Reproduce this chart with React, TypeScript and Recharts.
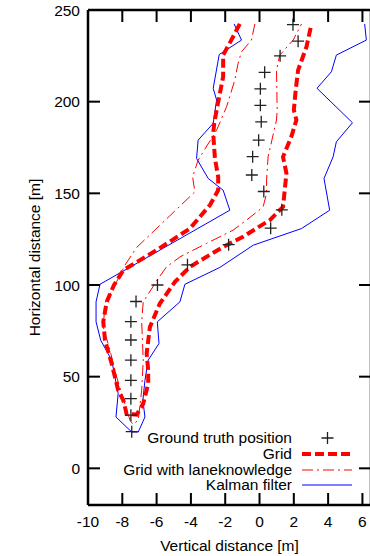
import React from 'react';
import { ComposedChart, Line, Scatter, XAxis, YAxis } from 'recharts';

const xTicks = [-10, -8, -6, -4, -2, 0, 2, 4, 6];
const yTicks = [0, 50, 100, 150, 200, 250];

// ground truth positions
const truthX = [-7.45, -7.5, -7.5, -7.5, -7.5, -7.5, -7.5, -7.2, -5.95, -4.2, -1.8, 0.65, 1.3, 0.25, -0.45, -0.4, -0.05, 0.1, 0.05, 0.05, 0.3, 1.2, 2.25, 1.95];
const truthY = [20, 29, 38, 48, 59, 70, 80, 91, 100, 111, 122, 131, 141, 151, 160, 170, 179, 189, 198, 207, 216, 225, 233, 242];

// each path: left border top -> bottom, then right border bottom -> top
const gridPath: [number, number][] = [
  [-1.15, 242.4], [-1.54, 235.4], [-2.12, 225.4], [-2.12, 213.6], [-2.31, 204.5], [-2.5, 195.4],
  [-2.64, 188.2], [-2.7, 182.7], [-2.6, 169.0], [-2.41, 159.0], [-2.41, 151.7], [-2.89, 143.6],
  [-4.06, 130.8], [-6.0, 119.0], [-7.94, 108.1], [-8.49, 99.9], [-8.91, 90.8], [-9.11, 79.9],
  [-9.01, 69.9], [-8.62, 57.2], [-8.24, 42.6], [-7.94, 37.1], [-7.75, 29.7], [-7.16, 29.3],
  [-6.78, 35.3], [-6.49, 46.2], [-6.49, 53.5], [-6.58, 62.6], [-6.39, 77.1], [-5.81, 89.9],
  [-4.93, 101.7], [-4.06, 109.9], [-2.12, 120.8], [-0.96, 126.3], [0.6, 135.4], [1.37, 142.6],
  [1.47, 151.7], [1.57, 160.9], [1.37, 169.9], [1.86, 181.0], [2.15, 190.0], [2.0, 195.4],
  [2.11, 206.3], [2.25, 217.2], [2.74, 230.0], [3.03, 242.4],
];

const laneGridPath: [number, number][] = [
  [-0.27, 242.4], [-0.47, 233.6], [-1.05, 227.2], [-1.25, 220.9], [-1.44, 211.8], [-1.92, 197.2],
  [-2.5, 184.5], [-3.58, 168.1], [-3.9, 159.0], [-3.77, 150.8], [-7.15, 120.6], [-7.85, 110.8],
  [-8.43, 99.9], [-9.01, 89.9], [-9.11, 77.1], [-8.72, 64.4], [-8.33, 49.8], [-7.94, 38.0],
  [-7.55, 26.2], [-7.38, 24.0], [-7.07, 26.2], [-6.87, 42.6], [-6.78, 59.0], [-6.87, 79.9],
  [-6.78, 90.8], [-5.91, 103.5], [-5.42, 109.9], [-4.64, 115.3], [-3.09, 122.7], [-1.54, 129.9],
  [-0.76, 135.4], [0.21, 142.6], [0.41, 149.9], [0.41, 157.2], [0.5, 169.9], [0.99, 190.0],
  [1.03, 195.4], [0.99, 217.2], [1.18, 225.4], [1.96, 233.6], [2.45, 242.4],
];

const kalmanPath: [number, number][] = [
  [-1.48, 242.4], [-1.05, 233.6], [-2.35, 225.7], [-2.7, 207.3], [-2.5, 200.9], [-2.7, 188.2],
  [-3.58, 179.0], [-3.67, 169.0], [-2.99, 158.1], [-2.12, 151.7], [-1.73, 140.8], [-9.3, 100.4],
  [-9.53, 90.8], [-9.53, 79.9], [-9.26, 69.9], [-8.62, 59.0], [-8.24, 40.8], [-8.37, 28.0],
  [-7.45, 19.8], [-7.07, 19.8], [-6.68, 28.0], [-6.8, 37.1], [-6.68, 48.0], [-6.49, 59.0],
  [-5.86, 68.1], [-5.96, 79.9], [-4.64, 90.8], [-4.35, 100.4], [-2.31, 109.6], [-0.37, 121.7],
  [2.45, 130.8], [4.09, 140.8], [3.76, 158.1], [4.29, 169.9], [4.48, 178.1], [5.42, 188.5],
  [3.35, 207.3], [4.19, 216.3], [4.48, 225.4], [6.23, 233.6], [6.13, 242.4],
];

const FONT = '"Liberation Sans", Arial, Helvetica, sans-serif';
const FS = 15.5;
const RED = '#ff0000';
const BLUE = '#0000ff';
const GRID_DASH = '9 4';
const LANE_DASH = '11 4 2 4';

const toRows = (pts: [number, number][]) => pts.map(([x, y]) => ({ x, y }));
const truthData = truthX.map((x, i) => ({ x, y: truthY[i] }));

const BottomTick = ({ x, y, payload }: any) => (
  <g>
    <line x1={x} x2={x} y1={y} y2={y - 12} stroke="#000" strokeWidth={2} />
    <text x={x} y={y + 22} textAnchor="middle" fontSize={FS} fontFamily={FONT} fill="#000">
      {payload.value}
    </text>
  </g>
);

const TopTick = ({ x, y }: any) => (
  <line x1={x} x2={x} y1={y} y2={y + 12} stroke="#000" strokeWidth={2} />
);

const LeftTick = ({ x, y, payload }: any) => (
  <g>
    <line x1={x} x2={x + 12} y1={y} y2={y} stroke="#000" strokeWidth={2} />
    <text x={x - 8} y={y} dy="0.36em" textAnchor="end" fontSize={FS} fontFamily={FONT} fill="#000">
      {payload.value}
    </text>
  </g>
);

const RightTick = ({ x, y }: any) => (
  <line x1={x} x2={x - 12} y1={y} y2={y} stroke="#000" strokeWidth={2} />
);

const Cross = (props: any) => {
  const { cx, cy } = props;
  return <path d={`M${cx - 6},${cy}h12M${cx},${cy - 6}v12`} stroke="#222" strokeWidth={1.3} fill="none" />;
};

const axisLine = { stroke: '#000', strokeWidth: 2.5 };

const legendItems = [
  { label: 'Ground truth position', kind: 'cross' },
  { label: 'Grid', kind: 'line', stroke: RED, width: 4, dash: GRID_DASH },
  { label: 'Grid with laneknowledge', kind: 'line', stroke: RED, width: 1, dash: LANE_DASH },
  { label: 'Kalman filter', kind: 'line', stroke: BLUE, width: 1, dash: undefined },
];

export default function App() {
  return (
    <div style={{ position: 'absolute', left: 0, top: 0, width: 370, height: 556, overflow: 'hidden', background: '#fff' }}>
      <ComposedChart width={380} height={556} margin={{ top: 9, right: 8, bottom: 0, left: 0 }}>
        <XAxis
          xAxisId="b"
          orientation="bottom"
          type="number"
          dataKey="x"
          domain={[-10, 6.5]}
          ticks={xTicks}
          allowDataOverflow
          height={51}
          tickSize={0}
          tickMargin={0}
          tickLine={false}
          axisLine={axisLine}
          tick={<BottomTick />}
          interval={0}
          label={{ value: 'Vertical distance [m]', position: 'insideBottom', offset: 5, fill: '#000', fontSize: FS, fontFamily: FONT }}
        />
        <XAxis
          xAxisId="t"
          orientation="top"
          type="number"
          dataKey="x"
          domain={[-10, 6.5]}
          ticks={xTicks}
          allowDataOverflow
          height={1}
          tickSize={0}
          tickMargin={0}
          tickLine={false}
          axisLine={axisLine}
          tick={<TopTick />}
          interval={0}
        />
        <YAxis
          yAxisId="l"
          orientation="left"
          type="number"
          dataKey="y"
          domain={[-20, 250]}
          ticks={yTicks}
          allowDataOverflow
          width={88}
          tickSize={0}
          tickMargin={0}
          tickLine={false}
          axisLine={axisLine}
          tick={<LeftTick />}
          interval={0}
          label={{
            value: 'Horizontal distance [m]',
            angle: -90,
            position: 'insideLeft',
            offset: 34,
            fill: '#000',
            fontSize: FS,
            fontFamily: FONT,
            style: { textAnchor: 'middle' },
          }}
        />
        <YAxis
          yAxisId="r"
          orientation="right"
          type="number"
          dataKey="y"
          domain={[-20, 250]}
          ticks={yTicks}
          allowDataOverflow
          width={1}
          tickSize={0}
          tickMargin={0}
          tickLine={false}
          axisLine={axisLine}
          tick={<RightTick />}
          interval={0}
        />
        <Line
          xAxisId="b"
          yAxisId="l"
          data={toRows(kalmanPath)}
          dataKey="y"
          type="linear"
          stroke={BLUE}
          strokeWidth={1}
          dot={false}
          activeDot={false}
          isAnimationActive={false}
        />
        <Line
          xAxisId="b"
          yAxisId="l"
          data={toRows(laneGridPath)}
          dataKey="y"
          type="linear"
          stroke={RED}
          strokeWidth={1}
          strokeDasharray={LANE_DASH}
          dot={false}
          activeDot={false}
          isAnimationActive={false}
        />
        <Line
          xAxisId="b"
          yAxisId="l"
          data={toRows(gridPath)}
          dataKey="y"
          type="linear"
          stroke={RED}
          strokeWidth={4}
          strokeDasharray={GRID_DASH}
          dot={false}
          activeDot={false}
          isAnimationActive={false}
        />
        <Scatter
          xAxisId="b"
          yAxisId="l"
          data={truthData}
          dataKey="y"
          shape={Cross}
          isAnimationActive={false}
        />
      </ComposedChart>
      <div style={{ position: 'absolute', left: 92, top: 430, fontFamily: FONT, fontSize: FS, color: '#000' }}>
        {legendItems.map((it) => (
          <div key={it.label} style={{ display: 'flex', alignItems: 'center', height: 15.8 }}>
            <span style={{ width: 200, textAlign: 'right', whiteSpace: 'nowrap', lineHeight: '15.8px' }}>{it.label}</span>
            <svg width={60} height={16} style={{ marginLeft: 10 }}>
              {it.kind === 'cross' ? (
                <path d="M19.5,8h12M25.5,2v12" stroke="#222" strokeWidth={1.3} fill="none" />
              ) : (
                <line x1={0} x2={50} y1={8} y2={8} stroke={it.stroke} strokeWidth={it.width} strokeDasharray={it.dash} />
              )}
            </svg>
          </div>
        ))}
      </div>
    </div>
  );
}
